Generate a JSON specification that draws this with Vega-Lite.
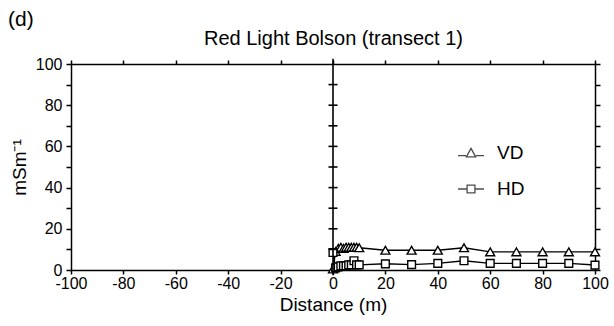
{
  "$schema": "https://vega.github.io/schema/vega-lite/v6.json",
  "width": 524,
  "height": 206,
  "autosize": {"type": "none"},
  "padding": {"left": 71, "top": 64, "right": 19, "bottom": 56},
  "background": "white",
  "title": {
    "text": "(d)",
    "anchor": "start",
    "frame": "group",
    "dx": -63,
    "dy": 8,
    "offset": 6,
    "fontSize": 21,
    "fontWeight": "normal",
    "font": "Liberation Sans",
    "color": "black"
  },
  "config": {
    "font": "Liberation Sans",
    "view": {"stroke": null},
    "axis": {
      "grid": false,
      "labelFlush": false,
      "domainColor": "black",
      "domainWidth": 1.5,
      "tickColor": "black",
      "tickWidth": 1.5,
      "tickSize": 5,
      "labelColor": "black",
      "titleColor": "black",
      "labelFont": "Liberation Sans",
      "titleFont": "Liberation Sans",
      "labelFontSize": 16,
      "titleFontSize": 19,
      "titleFontWeight": "normal"
    },
    "legend": {
      "labelFont": "Liberation Sans",
      "labelFontSize": 19,
      "labelColor": "black"
    }
  },
  "datasets": {
    "em31": [
      {"distance": 0, "series": "VD", "value": 0.5},
      {"distance": 1, "series": "VD", "value": 9},
      {"distance": 2, "series": "VD", "value": 10.5},
      {"distance": 3, "series": "VD", "value": 11},
      {"distance": 4, "series": "VD", "value": 10.5},
      {"distance": 5, "series": "VD", "value": 11},
      {"distance": 6, "series": "VD", "value": 11},
      {"distance": 7, "series": "VD", "value": 11},
      {"distance": 8, "series": "VD", "value": 11},
      {"distance": 9, "series": "VD", "value": 11},
      {"distance": 10, "series": "VD", "value": 10.8},
      {"distance": 20, "series": "VD", "value": 9.6},
      {"distance": 30, "series": "VD", "value": 9.6},
      {"distance": 40, "series": "VD", "value": 9.6},
      {"distance": 50, "series": "VD", "value": 10.8},
      {"distance": 60, "series": "VD", "value": 8.8},
      {"distance": 70, "series": "VD", "value": 8.8},
      {"distance": 80, "series": "VD", "value": 8.8},
      {"distance": 90, "series": "VD", "value": 8.8},
      {"distance": 100, "series": "VD", "value": 8.8},
      {"distance": 0, "series": "HD", "value": 8.5},
      {"distance": 1, "series": "HD", "value": 1},
      {"distance": 2, "series": "HD", "value": 1.5},
      {"distance": 3, "series": "HD", "value": 2},
      {"distance": 4, "series": "HD", "value": 2},
      {"distance": 5, "series": "HD", "value": 2},
      {"distance": 6, "series": "HD", "value": 2.5},
      {"distance": 7, "series": "HD", "value": 2.5},
      {"distance": 8, "series": "HD", "value": 4.5},
      {"distance": 9, "series": "HD", "value": 2.5},
      {"distance": 10, "series": "HD", "value": 2.5},
      {"distance": 20, "series": "HD", "value": 3},
      {"distance": 30, "series": "HD", "value": 2.6},
      {"distance": 40, "series": "HD", "value": 3.2},
      {"distance": 50, "series": "HD", "value": 4.5},
      {"distance": 60, "series": "HD", "value": 3.2},
      {"distance": 70, "series": "HD", "value": 3.2},
      {"distance": 80, "series": "HD", "value": 3.2},
      {"distance": 90, "series": "HD", "value": 3.2},
      {"distance": 100, "series": "HD", "value": 2.4}
    ],
    "centerTicks": [
      {"level": 10}, {"level": 20}, {"level": 30}, {"level": 40}, {"level": 50},
      {"level": 60}, {"level": 70}, {"level": 80}, {"level": 90}
    ],
    "centerLine": [
      {"line": "origin"}
    ]
  },
  "resolve": {
    "axis": {"x": "independent", "y": "independent"},
    "scale": {"shape": "independent", "size": "independent"}
  },
  "layer": [
    {
      "data": {"name": "em31"},
      "mark": {"type": "line", "color": "black", "strokeWidth": 1.4},
      "encoding": {
        "x": {
          "field": "distance",
          "type": "quantitative",
          "scale": {"domain": [-100, 100], "nice": false, "zero": false},
          "axis": {
            "orient": "bottom",
            "values": [-100, -80, -60, -40, -20, 0, 20, 40, 60, 80, 100],
            "labelExpr": "'' + datum.value",
            "tickSize": 4,
            "labelPadding": 1,
            "title": "Distance (m)",
            "titlePadding": 4
          }
        },
        "y": {
          "field": "value",
          "type": "quantitative",
          "scale": {"domain": [0, 100], "nice": false},
          "axis": {
            "orient": "left",
            "values": [0, 10, 20, 30, 40, 50, 60, 70, 80, 90, 100],
            "labelExpr": "datum.value % 20 === 0 ? datum.label : ''",
            "labelPadding": 4,
            "title": "mSm⁻¹",
            "titlePadding": 6
          }
        },
        "detail": {"field": "series"}
      }
    },
    {
      "data": {"name": "em31"},
      "mark": {"type": "point", "filled": true, "fill": "white", "stroke": "black", "strokeWidth": 1.4, "opacity": 1},
      "encoding": {
        "x": {"field": "distance", "type": "quantitative", "scale": {"domain": [-100, 100], "nice": false, "zero": false}, "axis": null},
        "y": {"field": "value", "type": "quantitative", "scale": {"domain": [0, 100], "nice": false}, "axis": null},
        "shape": {
          "field": "series",
          "type": "nominal",
          "scale": {"domain": ["VD", "HD"], "range": ["triangle-up", "square"]},
          "legend": null
        },
        "size": {
          "field": "series",
          "type": "nominal",
          "scale": {"domain": ["VD", "HD"], "range": [80, 60]},
          "legend": null
        }
      }
    },
    {
      "data": {"name": "em31"},
      "transform": [{"filter": {"field": "series", "equal": "key"}}],
      "mark": {"type": "point", "filled": false, "color": "black", "strokeWidth": 1.3},
      "encoding": {
        "x": {"field": "distance", "type": "quantitative", "scale": {"domain": [-100, 100], "nice": false, "zero": false}, "axis": null},
        "y": {"field": "value", "type": "quantitative", "scale": {"domain": [0, 100], "nice": false}, "axis": null},
        "shape": {
          "field": "series",
          "type": "nominal",
          "scale": {
            "domain": ["VD", "HD"],
            "range": [
              "M-1,0.2H-0.38M0.38,0.2H1M0,-0.36L0.36,0.3L-0.36,0.3Z",
              "M-1,0H-0.3M0.3,0H1M-0.3,-0.3H0.3V0.3H-0.3Z"
            ]
          },
          "legend": {
            "title": null,
            "orient": "none",
            "legendX": 386,
            "legendY": 75,
            "padding": 0,
            "symbolSize": 676,
            "symbolStrokeColor": "black",
            "symbolStrokeWidth": 1.3,
            "symbolFillColor": "transparent",
            "rowPadding": 12,
            "labelOffset": 12
          }
        }
      }
    },
    {
      "data": {"name": "centerLine"},
      "mark": {"type": "rule", "color": "black", "strokeWidth": 1.6},
      "encoding": {
        "x": {
          "datum": 0,
          "type": "quantitative",
          "scale": {"domain": [-100, 100], "nice": false, "zero": false},
          "axis": {
            "orient": "top",
            "values": [-100, -80, -60, -40, -20, 0, 20, 40, 60, 80, 100],
            "labels": false,
            "tickSize": 4,
            "title": "Red Light Bolson (transect 1)",
            "titleFontSize": 20,
            "titlePadding": 11
          }
        },
        "y": {
          "datum": -2.5,
          "type": "quantitative",
          "scale": {"domain": [0, 100], "nice": false},
          "axis": {
            "orient": "right",
            "values": [0, 10, 20, 30, 40, 50, 60, 70, 80, 90, 100],
            "labels": false,
            "title": null
          }
        },
        "y2": {"datum": 102.5}
      }
    },
    {
      "data": {"name": "centerTicks"},
      "mark": {"type": "point", "shape": "stroke", "filled": false, "color": "black", "size": 81, "strokeWidth": 1.6, "opacity": 1},
      "encoding": {
        "x": {"datum": 0, "type": "quantitative", "scale": {"domain": [-100, 100], "nice": false, "zero": false}, "axis": null},
        "y": {"field": "level", "type": "quantitative", "scale": {"domain": [0, 100], "nice": false}, "axis": null}
      }
    },
    {
      "mark": {"type": "text", "align": "left", "baseline": "middle", "fontSize": 20, "font": "Liberation Sans", "color": "black", "text": "8/20/94"},
      "encoding": {
        "x": {"datum": -86, "type": "quantitative", "scale": {"domain": [-100, 100], "nice": false, "zero": false}, "axis": null},
        "y": {"datum": 80, "type": "quantitative", "scale": {"domain": [0, 100], "nice": false}, "axis": null}
      }
    },
    {
      "mark": {"type": "text", "align": "left", "baseline": "middle", "fontSize": 20, "font": "Liberation Sans", "color": "black", "text": "EM31 9800 Hz"},
      "encoding": {
        "x": {"datum": -86, "type": "quantitative", "scale": {"domain": [-100, 100], "nice": false, "zero": false}, "axis": null},
        "y": {"datum": 36, "type": "quantitative", "scale": {"domain": [0, 100], "nice": false}, "axis": null}
      }
    }
  ]
}
